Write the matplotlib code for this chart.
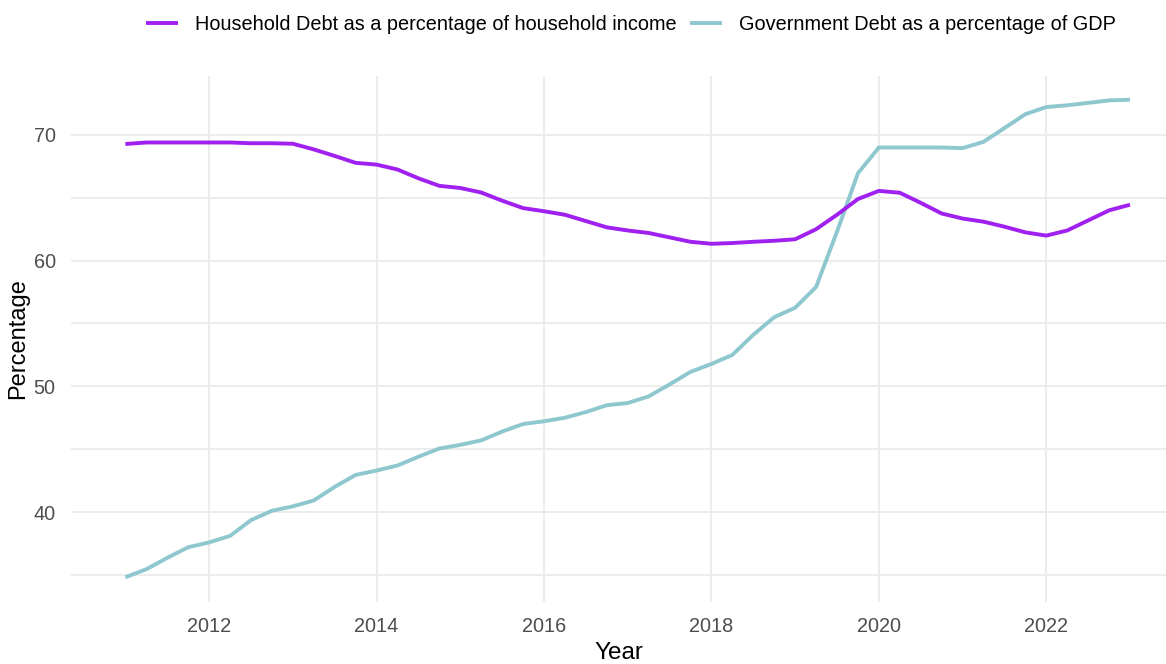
import matplotlib
matplotlib.use("Agg")
import matplotlib.pyplot as plt
import numpy as np

# Quarterly time points (year fractions)
years = [2011.00, 2011.25, 2011.50, 2011.75, 2012.00, 2012.25, 2012.50, 2012.75,
         2013.00, 2013.25, 2013.50, 2013.75, 2014.00, 2014.25, 2014.50, 2014.75,
         2015.00, 2015.25, 2015.50, 2015.75, 2016.00, 2016.25, 2016.50, 2016.75,
         2017.00, 2017.25, 2017.50, 2017.75, 2018.00, 2018.25, 2018.50, 2018.75,
         2019.00, 2019.25, 2019.50, 2019.75, 2020.00, 2020.25, 2020.50, 2020.75,
         2021.00, 2021.25, 2021.50, 2021.75, 2022.00, 2022.25, 2022.50, 2022.75,
         2023.00]

household_debt = [69.28, 69.40, 69.40, 69.40, 69.40, 69.40, 69.34, 69.34,
                  69.30, 68.85, 68.33, 67.78, 67.64, 67.25, 66.55, 65.95,
                  65.78, 65.42, 64.77, 64.18, 63.93, 63.65, 63.15, 62.65,
                  62.40, 62.20, 61.85, 61.50, 61.34, 61.40, 61.50, 61.58,
                  61.70, 62.50, 63.65, 64.90, 65.55, 65.40, 64.60, 63.75,
                  63.35, 63.10, 62.70, 62.25, 61.99, 62.40, 63.20, 64.00,
                  64.45]

government_debt = [34.81, 35.45, 36.35, 37.20, 37.58, 38.10, 39.35, 40.10,
                   40.45, 40.92, 42.00, 42.95, 43.30, 43.70, 44.40, 45.05,
                   45.34, 45.70, 46.40, 47.00, 47.22, 47.50, 47.95, 48.50,
                   48.67, 49.20, 50.15, 51.15, 51.78, 52.50, 54.10, 55.50,
                   56.25, 57.90, 62.30, 66.95, 69.00, 69.00, 69.00, 69.00,
                   68.95, 69.45, 70.55, 71.65, 72.22, 72.36, 72.55, 72.75,
                   72.80]

series_labels = ["Household Debt as a percentage of household income",
                 "Government Debt as a percentage of GDP"]
x_ticks = [2012, 2014, 2016, 2018, 2020, 2022]
y_ticks = [40, 50, 60, 70]
y_grid = [35, 40, 45, 50, 55, 60, 65, 70]

plt.rcParams['font.family'] = ['Liberation Sans', 'DejaVu Sans']

W, H = 1166, 664
fig = plt.figure(figsize=(W / 100, H / 100), dpi=100)
ax = fig.add_axes([71 / W, 1 - 602 / H, 1 - 71 / W, (602 - 76) / H])

grid_c = "#EBEBEB"
for yv in y_grid:
    ax.axhline(yv, color=grid_c, lw=1.3, zorder=0)
for xv in x_ticks:
    ax.axvline(xv, color=grid_c, lw=1.3, zorder=0)

purple = "#A020F0"
teal = "#8EC8CE"
ax.plot(years, household_debt, color=purple, lw=2.8, label=series_labels[0],
        solid_capstyle='butt', solid_joinstyle='round', zorder=3)
ax.plot(years, government_debt, color=teal, lw=2.8, label=series_labels[1],
        solid_capstyle='butt', solid_joinstyle='round', zorder=2)

ax.set_xlim(2010.35, 2023.43)
ax.set_ylim(32.84, 74.69)
ax.set_xticks(x_ticks)
ax.set_yticks(y_ticks)
ax.tick_params(length=0, labelsize=14.3, labelcolor="#4D4D4D", pad=11)
for s in ax.spines.values():
    s.set_visible(False)

ax.set_xlabel("Year", fontsize=17.5, color="black", labelpad=4)
ax.set_ylabel("Percentage", fontsize=17, color="black", labelpad=3)

handles, labels = ax.get_legend_handles_labels()
fig.legend(handles, labels, loc="upper center", bbox_to_anchor=(0.541, 1.005),
           ncol=2, frameon=False, fontsize=14.3, handlelength=1.6,
           handletextpad=0.85, columnspacing=0.7)

fig.savefig("out.png", dpi=100)
